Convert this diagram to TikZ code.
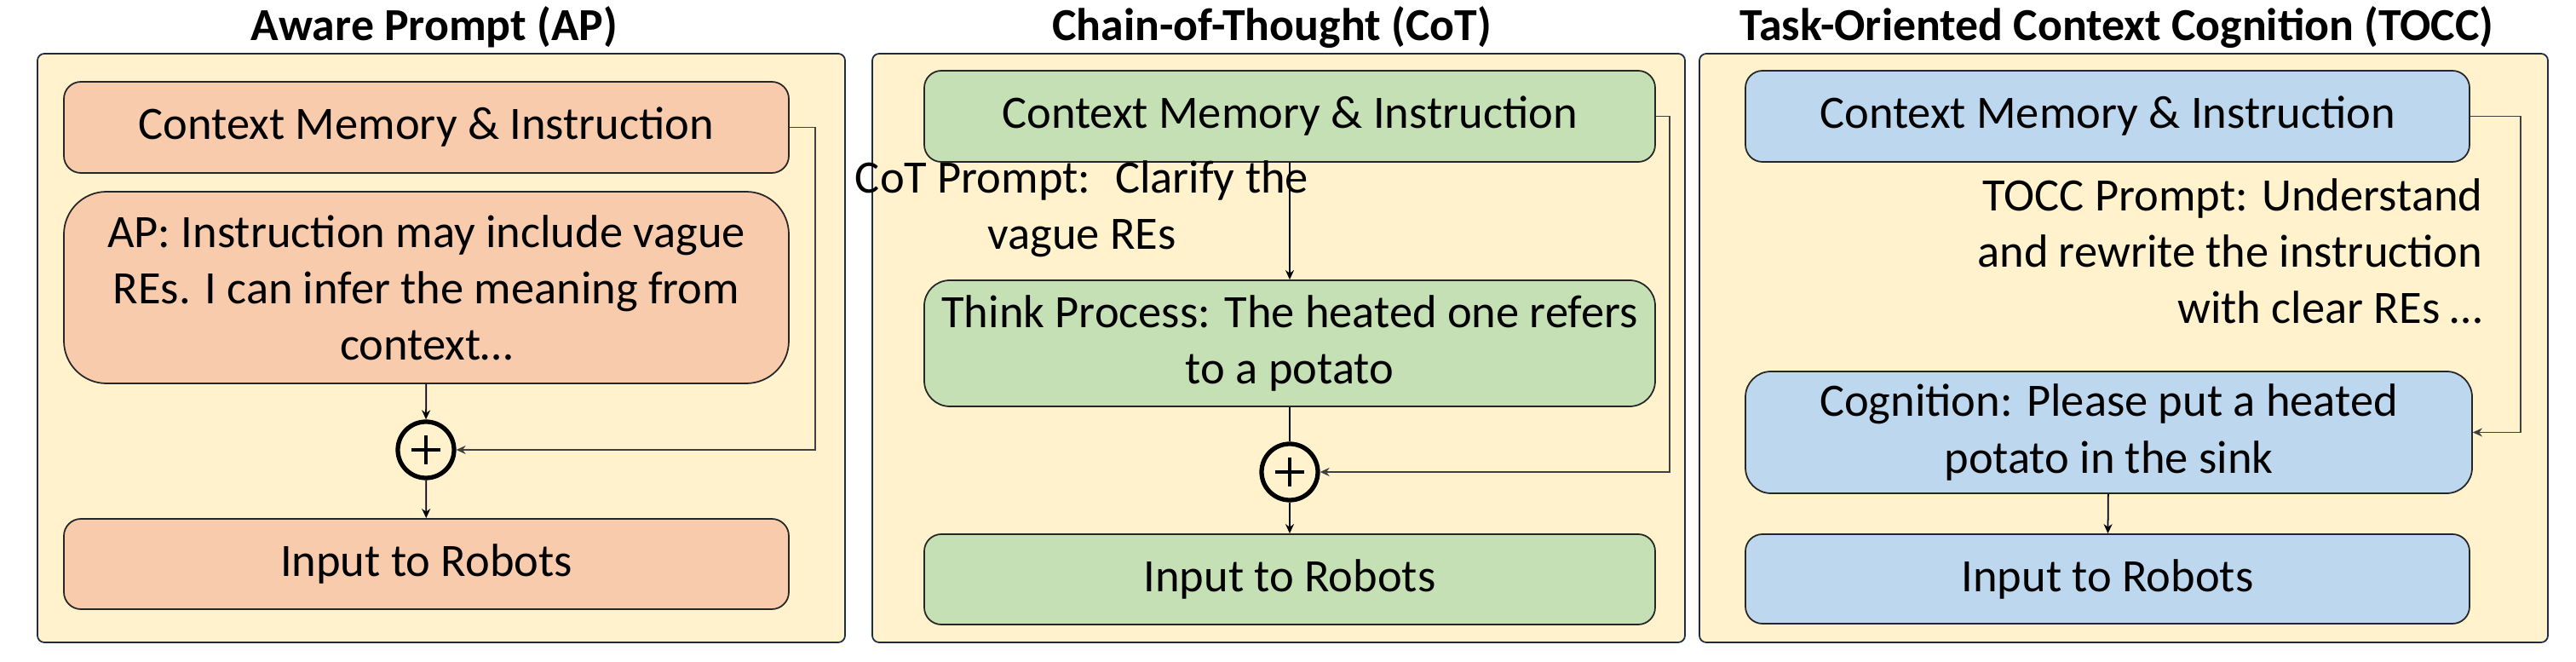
\documentclass[tikz,border=0pt]{standalone}
\usepackage{fontspec}
\setmainfont{Carlito}
\usetikzlibrary{arrows.meta, positioning}
\definecolor{panelbg}{HTML}{FFF2CC}
\definecolor{panelline}{HTML}{1F2A44}
\definecolor{apfill}{HTML}{F8CBAD}
\definecolor{cotfill}{HTML}{C5E0B4}
\definecolor{toccfill}{HTML}{BDD7EE}
\newcommand{\boxfont}{\fontsize{15.5}{18.8}\selectfont}
\newcommand{\titlefont}{\bfseries\fontsize{15.3}{17}\selectfont}

\begin{document}
\begin{tikzpicture}[x=1cm, y=-1cm,
  panel/.style={draw=panelline, fill=panelbg, rounded corners=0.08cm, line width=0.5pt},
  title/.style={font=\titlefont, inner sep=0pt},
  stage/.style={draw=black!85, line width=0.5pt, align=center, inner sep=0pt,
    minimum width=8.51cm, minimum height=1.07cm, rounded corners=0.2cm, font=\boxfont},
  hint/.style={font=\boxfont, inner sep=0pt},
  sumnode/.style={circle, draw=black, line width=1.5pt, minimum size=0.66cm, inner sep=0pt,
    path picture={\draw[line width=1pt] ([xshift=-0.17cm]path picture bounding box.center) -- ([xshift=0.17cm]path picture bounding box.center);
      \draw[line width=1pt] ([yshift=-0.17cm]path picture bounding box.center) -- ([yshift=0.17cm]path picture bounding box.center);}},
  flow/.style={line width=0.5pt, -{Stealth[length=1.1mm, width=1mm]}},
  back/.style={line width=0.5pt, draw=black!75, -{Stealth[length=1.1mm, width=1mm]}}
]
\useasboundingbox (0,0) rectangle (30.24,7.77);

\draw [panel] (0.44,0.63) rectangle (9.92,7.54);
\node (apTitle) at (5.10,0.32) [title] {Aware Prompt (AP)};
\node (apCtx) at (5.005,1.495) [stage, fill=apfill] {Context Memory \& Instruction};
\node (apHint) at (5.005,3.375) [stage, fill=apfill, minimum height=2.25cm, rounded corners=0.5cm] {AP: Instruction may include vague\\REs. I can infer the meaning from\\context…};
\node (apSum) at (5.00,5.28) [sumnode] {};
\node (apOut) at (5.005,6.62) [stage, fill=apfill, minimum height=1.06cm] {Input to Robots};
\draw [flow] (apHint) -- (apSum);
\draw [flow] (apSum) -- (apOut);
\draw [back] (apCtx.east) -- (9.57,1.495) |- (apSum.east);

\draw [panel] (10.24,0.63) rectangle (19.78,7.54);
\node (cotTitle) at (14.93,0.32) [title] {Chain-of-Thought (CoT)};
\node (cotCtx) at (15.14,1.365) [stage, fill=cotfill, minimum width=8.58cm] {Context Memory \& Instruction};
\node (cotHint) at (12.70,2.45) [hint, align=center] {CoT Prompt:~ Clarify the\\vague REs};
\node (cotThink) at (15.14,4.03) [stage, fill=cotfill, minimum width=8.58cm, minimum height=1.48cm, rounded corners=0.3cm] {Think Process: The heated one refers\\to a potato};
\node (cotSum) at (15.14,5.54) [sumnode] {};
\node (cotOut) at (15.14,6.80) [stage, fill=cotfill, minimum width=8.58cm, minimum height=1.06cm] {Input to Robots};
\draw [flow] (cotCtx) -- (cotThink);
\draw [line width=0.5pt] (cotThink) -- (cotSum);
\draw [flow] (cotSum) -- (cotOut);
\draw [back] (cotCtx.east) -- (19.60,1.365) |- (cotSum.east);

\draw [panel] (19.95,0.63) rectangle (29.91,7.54);
\node (toccTitle) at (24.85,0.32) [title] {Task-Oriented Context Cognition (TOCC)};
\node (toccCtx) at (24.74,1.365) [stage, fill=toccfill, minimum width=8.50cm] {Context Memory \& Instruction};
\node (toccHint) at (29.15,2.95) [hint, anchor=east, align=right] {TOCC Prompt: Understand\\and rewrite the instruction\\with clear REs …};
\node (toccCog) at (24.755,5.075) [stage, fill=toccfill, minimum width=8.53cm, minimum height=1.43cm, rounded corners=0.3cm] {Cognition: Please put a heated\\potato in the sink};
\node (toccOut) at (24.74,6.795) [stage, fill=toccfill, minimum width=8.50cm, minimum height=1.05cm] {Input to Robots};
\draw [flow] (toccCog) -- (toccOut);
\draw [back] (toccCtx.east) -- (29.59,1.365) |- (toccCog.east);
\end{tikzpicture}
\end{document}
